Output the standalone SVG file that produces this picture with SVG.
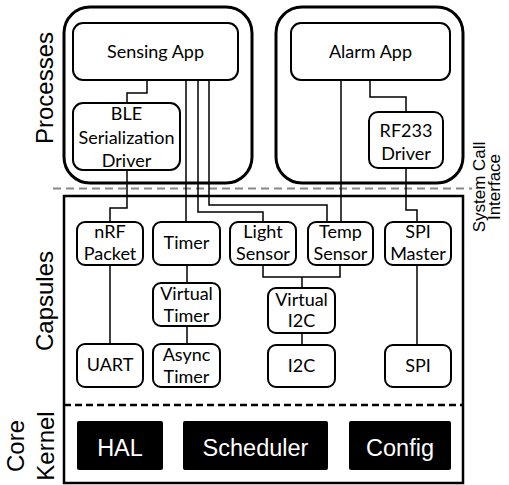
<svg xmlns="http://www.w3.org/2000/svg" width="509" height="485" viewBox="0 0 509 485">
<style>
.proc{fill:none;stroke:#000;stroke-width:3}
.cont{fill:none;stroke:#000;stroke-width:2.5}
.box{fill:#fff;stroke:#000;stroke-width:2}
.kbox{fill:#000}
.wire{fill:none;stroke:#000;stroke-width:1.5}
.lbl{font-family:Lato,"Liberation Sans",sans-serif;font-size:18px;text-anchor:middle;fill:#000}
.klbl{font-family:"Liberation Sans",Arial,sans-serif;font-size:23.5px;text-anchor:middle;fill:#fff}
.grp{font-family:"Liberation Sans",Arial,sans-serif;font-size:24px;text-anchor:middle;fill:#000}
.sci{font-family:"Liberation Sans",Arial,sans-serif;font-size:17px;text-anchor:middle;fill:#000}
</style>
<rect width="509" height="485" fill="#fff"/>
<g id="containers">
<rect x="64" y="7" width="188" height="176" rx="26" class="proc"/>
<rect x="276" y="7" width="187" height="176" rx="26" class="proc"/>
<line x1="53" y1="188.5" x2="472" y2="188.5" stroke="#888" stroke-width="1.8" stroke-dasharray="8,5"/>
<rect x="64" y="196" width="399" height="287" class="cont"/>
<line x1="64" y1="405" x2="463" y2="405" stroke="#000" stroke-width="2.5" stroke-dasharray="7,4"/>
</g>
<g id="connectors">
<path class="wire" d="M147,80V93H127V103"/>
<path class="wire" d="M127,170V208H110V222"/>
<path class="wire" d="M186,80V222"/>
<path class="wire" d="M198,80V212H263V222"/>
<path class="wire" d="M209,80V205H327V222"/>
<path class="wire" d="M341,80V222"/>
<path class="wire" d="M370,80V97H406V112"/>
<path class="wire" d="M406,168V210H417V222"/>
<path class="wire" d="M110,265V344"/>
<path class="wire" d="M187,265V283"/>
<path class="wire" d="M187,326V344"/>
<path class="wire" d="M263,265V277H340V265"/>
<path class="wire" d="M302,277V288"/>
<path class="wire" d="M302,333V345"/>
<path class="wire" d="M417,265V345"/>
</g>
<g id="sensing-app"><rect x="73" y="23" width="165" height="57" rx="10" class="box"/><text x="155.5" y="58" class="lbl">Sensing App</text></g>
<g id="alarm-app"><rect x="291" y="23" width="159" height="57" rx="10" class="box"/><text x="370.5" y="58" class="lbl">Alarm App</text></g>
<g id="ble-driver"><rect x="73" y="103" width="107" height="67" rx="10" class="box"/><text x="126.5" y="120" class="lbl">BLE</text><text x="126.5" y="144" class="lbl">Serialization</text><text x="126.5" y="167" class="lbl">Driver</text></g>
<g id="rf233-driver"><rect x="369" y="112" width="74" height="56" rx="9" class="box"/><text x="406" y="137" class="lbl">RF233</text><text x="406" y="160" class="lbl">Driver</text></g>
<g id="nrf-packet"><rect x="77" y="222" width="66" height="43" rx="8" class="box"/><text x="110" y="238" class="lbl">nRF</text><text x="110" y="260" class="lbl">Packet</text></g>
<g id="timer"><rect x="153" y="222" width="67" height="43" rx="8" class="box"/><text x="186.5" y="249" class="lbl">Timer</text></g>
<g id="light-sensor"><rect x="230" y="222" width="66" height="43" rx="8" class="box"/><text x="263" y="238" class="lbl">Light</text><text x="263" y="260" class="lbl">Sensor</text></g>
<g id="temp-sensor"><rect x="308" y="222" width="65" height="43" rx="8" class="box"/><text x="340.5" y="238" class="lbl">Temp</text><text x="340.5" y="260" class="lbl">Sensor</text></g>
<g id="spi-master"><rect x="385" y="222" width="66" height="43" rx="8" class="box"/><text x="418" y="238" class="lbl">SPI</text><text x="418" y="260" class="lbl">Master</text></g>
<g id="virtual-timer"><rect x="153" y="283" width="67" height="43" rx="8" class="box"/><text x="186.5" y="300" class="lbl">Virtual</text><text x="186.5" y="322" class="lbl">Timer</text></g>
<g id="virtual-i2c"><rect x="268" y="288" width="67" height="45" rx="8" class="box"/><text x="301.5" y="306" class="lbl">Virtual</text><text x="301.5" y="327" class="lbl">I2C</text></g>
<g id="uart"><rect x="77" y="344" width="66" height="43" rx="8" class="box"/><text x="110" y="371" class="lbl">UART</text></g>
<g id="async-timer"><rect x="153" y="344" width="67" height="43" rx="8" class="box"/><text x="186.5" y="361" class="lbl">Async</text><text x="186.5" y="383" class="lbl">Timer</text></g>
<g id="i2c"><rect x="268" y="345" width="67" height="42" rx="8" class="box"/><text x="301.5" y="372" class="lbl">I2C</text></g>
<g id="spi"><rect x="385" y="345" width="66" height="42" rx="8" class="box"/><text x="418" y="372" class="lbl">SPI</text></g>
<g id="hal"><rect x="77" y="421" width="86" height="49" rx="2" class="kbox"/><text x="120" y="456" class="klbl">HAL</text></g>
<g id="scheduler"><rect x="183" y="421" width="145" height="49" rx="2" class="kbox"/><text x="255.5" y="456" class="klbl">Scheduler</text></g>
<g id="config"><rect x="349" y="421" width="102" height="49" rx="2" class="kbox"/><text x="400" y="456" class="klbl">Config</text></g>
<g id="group-labels">
<text class="grp" transform="translate(53,88) rotate(-90)">Processes</text>
<text class="grp" transform="translate(53,301) rotate(-90)">Capsules</text>
<text class="grp" transform="translate(24,446) rotate(-90)">Core</text>
<text class="grp" transform="translate(54,446) rotate(-90)">Kernel</text>
<text class="sci" transform="translate(485,187) rotate(-90)">System Call</text>
<text class="sci" transform="translate(500,187) rotate(-90)">Interface</text>
</g>
</svg>
